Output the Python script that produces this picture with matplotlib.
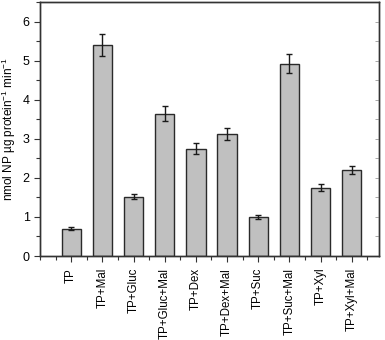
import matplotlib
matplotlib.use("Agg")
import matplotlib.pyplot as plt
from matplotlib.ticker import MultipleLocator

plt.rcParams['font.family'] = ['Liberation Sans', 'DejaVu Sans']
plt.rcParams['mathtext.default'] = 'regular'

conditions = ["TP", "TP+Mal", "TP+Gluc", "TP+Gluc+Mal", "TP+Dex", "TP+Dex+Mal",
              "TP+Suc", "TP+Suc+Mal", "TP+Xyl", "TP+Xyl+Mal"]
activity = [0.70, 5.40, 1.52, 3.64, 2.75, 3.13, 1.00, 4.92, 1.75, 2.20]
errors = [0.04, 0.27, 0.07, 0.19, 0.13, 0.15, 0.04, 0.24, 0.09, 0.11]

fig = plt.figure(figsize=(3.85, 3.4), dpi=100)
ax = fig.add_axes([0.104, 0.247, 0.880, 0.747])

pos = list(range(1, len(conditions) + 1))
ax.bar(pos, activity, width=0.62, color='#c0c0c0', edgecolor='#2a2a2a', linewidth=1.0,
       yerr=errors, error_kw=dict(ecolor='#1a1a1a', elinewidth=1.0, capsize=2.5, capthick=1.0))

ax.set_xlim(0, 10.87)
ax.set_ylim(0, 6.5)
ax.set_xticks(pos)
ax.set_xticklabels(conditions, rotation=90, fontsize=8.3)
ax.xaxis.set_minor_locator(MultipleLocator(0.5))
ax.yaxis.set_major_locator(MultipleLocator(1))
ax.yaxis.set_minor_locator(MultipleLocator(0.5))
ax.tick_params(axis='both', which='major', length=4, width=0.8, labelsize=9, color='#333333')
ax.tick_params(axis='x', which='major', pad=4.5, labelsize=8.3)
ax.tick_params(axis='both', which='minor', length=3, width=0.8, color='#333333')
ax.set_ylabel("nmol NP µg protein$^{-1}$ min$^{-1}$", fontsize=8.5, labelpad=3)

# inward ticks on the right spine
axr = ax.twinx()
axr.set_ylim(ax.get_ylim())
axr.yaxis.set_major_locator(MultipleLocator(1))
axr.yaxis.set_minor_locator(MultipleLocator(0.5))
axr.tick_params(axis='y', which='both', direction='in', length=3, width=0.6,
                labelright=False, color='#999999')

for a in (ax, axr):
    for s in a.spines.values():
        s.set_linewidth(1.0)
        s.set_color('#333333')

fig.savefig("out.png", dpi=100)
